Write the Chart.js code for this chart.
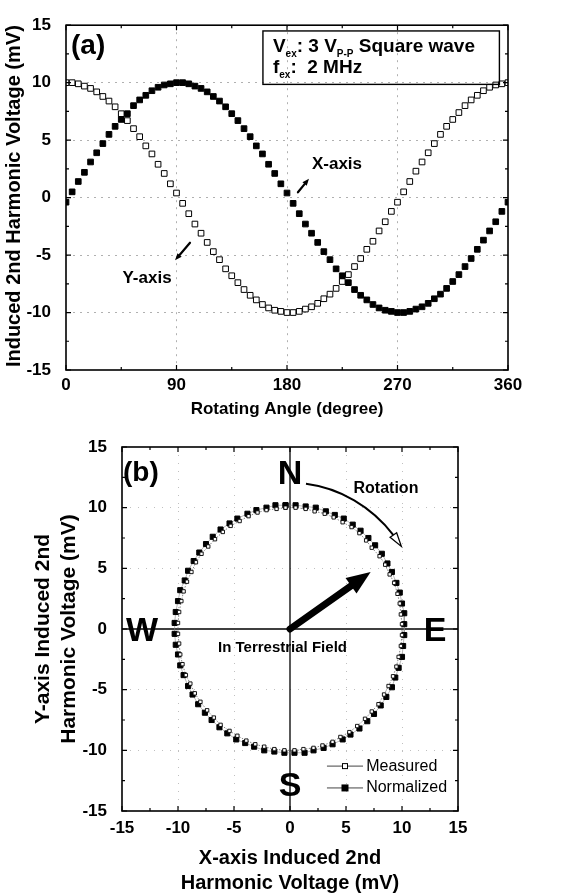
<!DOCTYPE html>
<html><head><meta charset="utf-8">
<script src="https://cdn.jsdelivr.net/npm/chart.js@4.4.0/dist/chart.umd.min.js"></script>
<style>
html,body{margin:0;padding:0;background:#fff;width:571px;height:896px;overflow:hidden;}
#ca{position:absolute;left:0;top:0;}
#cb{position:absolute;left:0;top:420px;}
</style></head><body>
<canvas id="ca" width="571" height="420"></canvas>
<canvas id="cb" width="571" height="476"></canvas>
<script>
// ---------- DATA ----------
const angles = [0,5,10,15,20,25,30,35,40,45,50,55,60,65,70,75,80,85,90,95,100,105,110,115,120,125,130,135,140,145,150,155,160,165,170,175,180,185,190,195,200,205,210,215,220,225,230,235,240,245,250,255,260,265,270,275,280,285,290,295,300,305,310,315,320,325,330,335,340,345,350,355,360];
// Panel (a): X-axis (filled squares)
const xAxisVolt = [-0.4,0.5,1.4,2.2,3.1,3.9,4.7,5.5,6.2,6.8,7.3,8.0,8.5,8.9,9.3,9.6,9.8,9.9,10.0,10.0,9.9,9.7,9.5,9.2,8.8,8.4,7.9,7.3,6.7,6.0,5.3,4.5,3.8,2.9,2.1,1.2,0.4,
  -0.5,-1.4,-2.3,-3.1,-3.9,-4.7,-5.4,-6.2,-6.8,-7.4,-8.0,-8.5,-8.9,-9.3,-9.6,-9.8,-9.9,-10.0,-10.0,-9.9,-9.7,-9.5,-9.2,-8.8,-8.4,-7.9,-7.3,-6.7,-6.0,-5.3,-4.5,-3.7,-2.9,-2.1,-1.2,-0.4];
// Panel (a): Y-axis (open squares)
const yAxisVolt = [10.0,10.0,9.9,9.7,9.5,9.2,8.8,8.4,7.9,7.3,6.7,6.0,5.3,4.5,3.8,2.9,2.1,1.2,0.4,-0.5,-1.4,-2.3,-3.1,-3.9,-4.7,-5.4,-6.2,-6.8,-7.4,-8.0,-8.5,-8.9,-9.3,-9.6,-9.8,-9.9,-10.0,
  -10.0,-9.9,-9.7,-9.5,-9.2,-8.8,-8.4,-7.9,-7.3,-6.7,-6.0,-5.3,-4.5,-3.8,-2.9,-2.1,-1.2,-0.4,0.5,1.4,2.3,3.1,3.9,4.7,5.5,6.2,6.8,7.4,8.0,8.5,8.9,9.3,9.6,9.8,9.9,10.0];
// Panel (b): Normalized
const normX = [-0.4,0.5,1.4,2.3,3.2,4.0,4.8,5.6,6.3,7.0,7.6,8.2,8.7,9.1,9.5,9.8,10.0,10.2,10.2,10.2,10.1,10.0,9.7,9.4,9.1,8.6,8.1,7.5,6.9,6.2,5.4,4.7,3.8,3.0,2.1,1.3,0.4,
  -0.5,-1.4,-2.3,-3.2,-4.0,-4.8,-5.6,-6.3,-7.0,-7.6,-8.2,-8.7,-9.1,-9.5,-9.8,-10.0,-10.2,-10.3,-10.3,-10.2,-10.0,-9.8,-9.4,-9.1,-8.6,-8.1,-7.5,-6.9,-6.2,-5.4,-4.7,-3.8,-3.0,-2.1,-1.3,-0.4];
const normY = [10.2,10.2,10.1,10.0,9.7,9.4,9.1,8.6,8.1,7.5,6.9,6.2,5.4,4.7,3.8,3.0,2.1,1.3,0.4,-0.5,-1.4,-2.3,-3.2,-4.0,-4.8,-5.6,-6.3,-7.0,-7.6,-8.2,-8.7,-9.1,-9.5,-9.8,-10.0,-10.2,-10.2,
  -10.2,-10.1,-10.0,-9.7,-9.4,-9.1,-8.6,-8.1,-7.5,-6.9,-6.2,-5.4,-4.7,-3.8,-3.0,-2.1,-1.3,-0.4,0.5,1.4,2.3,3.2,4.0,4.8,5.6,6.3,7.0,7.6,8.2,8.7,9.1,9.5,9.8,10.0,10.2,10.2];
// Tick labels
const angleTicks = [0,90,180,270,360];
const voltTicks = [-15,-10,-5,0,5,10,15];

// ---------- HELPERS ----------
const FF = '"Liberation Sans", Arial, Helvetica, sans-serif';
const bold = (s, lh) => ({family: FF, size: s, weight: 'bold', lineHeight: lh || 1.2});
function mids(arr){ const r=[]; for(let i=0;i<arr.length-1;i++) r.push((arr[i]+arr[i+1])/2); return r; }
function frameTicks(ctx, a, xs, ys, xMaj, yMaj){
  ctx.save();
  ctx.strokeStyle='#000';
  ctx.lineWidth=1.2;
  ctx.beginPath();
  const doX=(vals,len)=>vals.forEach(v=>{const p=xs.getPixelForValue(v);ctx.moveTo(p,a.bottom);ctx.lineTo(p,a.bottom-len);ctx.moveTo(p,a.top);ctx.lineTo(p,a.top+len);});
  const doY=(vals,len)=>vals.forEach(v=>{const p=ys.getPixelForValue(v);ctx.moveTo(a.left,p);ctx.lineTo(a.left+len,p);ctx.moveTo(a.right,p);ctx.lineTo(a.right-len,p);});
  doX(xMaj,5); doX(mids(xMaj),3); doY(yMaj,5); doY(mids(yMaj),3);
  ctx.stroke();
  ctx.lineWidth=1.6;
  ctx.strokeRect(a.left,a.top,a.right-a.left,a.bottom-a.top);
  ctx.restore();
}
function arrow(ctx,x1,y1,x2,y2,lw,hl,hw,hollow){
  const ang=Math.atan2(y2-y1,x2-x1);
  const bx=x2-hl*Math.cos(ang), by=y2-hl*Math.sin(ang);
  ctx.save();
  ctx.strokeStyle='#000';
  if(lw>0){ ctx.lineWidth=lw; ctx.lineCap='round';
    ctx.beginPath(); ctx.moveTo(x1,y1); ctx.lineTo(bx,by); ctx.stroke(); }
  ctx.beginPath();
  ctx.moveTo(x2,y2);
  ctx.lineTo(bx+hw/2*Math.sin(ang), by-hw/2*Math.cos(ang));
  ctx.lineTo(bx-hw/2*Math.sin(ang), by+hw/2*Math.cos(ang));
  ctx.closePath();
  if(hollow){ctx.fillStyle='#fff';ctx.fill();ctx.lineWidth=1.3;ctx.lineJoin='miter';ctx.stroke();}
  else {ctx.fillStyle='#000';ctx.fill();}
  ctx.restore();
}
function rich(ctx,x,y,parts){
  parts.forEach(([t,s,dy])=>{ctx.font=`bold ${s}px ${FF}`;ctx.fillText(t,x,y+dy);x+=ctx.measureText(t).width;});
}
function gridColor(c, light){ const v=c.tick.value; const s=c.scale; return (v===s.min||v===s.max)?'rgba(0,0,0,0)':light; }

// ---------- PANEL A ----------
const plugA = {
  id:'plugA',
  afterDatasetsDraw(chart){
    const {ctx, chartArea:a, scales:{x,y}} = chart;
    frameTicks(ctx,a,x,y,angleTicks,voltTicks);
    ctx.save();
    ctx.fillStyle='#000'; ctx.textBaseline='alphabetic';
    ctx.font=`bold 28px ${FF}`; ctx.textAlign='left';
    ctx.fillText('(a)', a.left+5, a.top+29);
    // info box
    const bx1=x.getPixelForValue(160.4), bx2=x.getPixelForValue(353), by1=y.getPixelForValue(14.5), by2=y.getPixelForValue(9.85);
    ctx.lineWidth=1.4; ctx.strokeStyle='#000';
    ctx.strokeRect(bx1,by1,bx2-bx1,by2-by1);
    const tx=bx1+10;
    rich(ctx,tx,y.getPixelForValue(12.7),[['V',19,0],['ex',10,5],[': 3 V',19,0],['P-P',10,5],[' Square wave',19,0]]);
    rich(ctx,tx,y.getPixelForValue(10.8),[['f',19,0],['ex',10,5],[':  2 MHz',19,0]]);
    // labels
    ctx.font=`bold 17px ${FF}`; ctx.textAlign='center'; ctx.textBaseline='middle';
    ctx.fillText('X-axis', x.getPixelForValue(220.7), y.getPixelForValue(2.92));
    ctx.fillText('Y-axis', x.getPixelForValue(66), y.getPixelForValue(-7.06));
    arrow(ctx, x.getPixelForValue(188.9), y.getPixelForValue(0.46), x.getPixelForValue(197.9), y.getPixelForValue(1.65), 2.2, 7, 5.5, false);
    arrow(ctx, x.getPixelForValue(101), y.getPixelForValue(-3.93), x.getPixelForValue(88.8), y.getPixelForValue(-5.45), 2.2, 7, 5.5, false);
    ctx.restore();
  }
};

new Chart(document.getElementById('ca'), {
  type:'scatter',
  data:{datasets:[
    {label:'X-axis', data:angles.map((a,i)=>({x:a,y:xAxisVolt[i]})), pointStyle:'rect', pointRadius:4, backgroundColor:'#000', borderColor:'#000', borderWidth:1},
    {label:'Y-axis', data:angles.map((a,i)=>({x:a,y:yAxisVolt[i]})), pointStyle:'rect', pointRadius:4, backgroundColor:'#fff', borderColor:'#000', borderWidth:1}
  ]},
  options:{
    responsive:false, animation:false, devicePixelRatio:1,
    layout:{padding:{top:15,right:63,left:0,bottom:0}},
    plugins:{legend:{display:false},tooltip:{enabled:false}},
    scales:{
      x:{type:'linear',min:0,max:360,
        afterBuildTicks:s=>{s.ticks=angleTicks.map(v=>({value:v}));},
        afterFit:s=>{s.height=50;},
        ticks:{font:bold(17),color:'#000',padding:5,maxRotation:0},
        grid:{drawTicks:false,color:c=>gridColor(c,'#b0b0b0'),lineWidth:1},
        border:{display:false,dash:[2,5]},
        title:{display:true,text:'Rotating Angle (degree)',font:bold(17),color:'#000',padding:{top:0,bottom:0}}
      },
      y:{type:'linear',min:-15,max:15,
        afterBuildTicks:s=>{s.ticks=voltTicks.map(v=>({value:v}));},
        afterFit:s=>{s.width=66;},
        ticks:{font:bold(17),color:'#000',padding:15},
        grid:{drawTicks:false,color:c=>gridColor(c,'#b0b0b0'),lineWidth:1},
        border:{display:false,dash:[2,5]},
        title:{display:true,align:'end',text:'Induced 2nd Harmonic Voltage (mV)',font:bold(20),color:'#000',padding:{top:2,bottom:0}}
      }
    }
  },
  plugins:[plugA]
});

// ---------- PANEL B ----------
const plugB = {
  id:'plugB',
  beforeDatasetsDraw(chart){
    const {ctx, chartArea:a, scales:{x,y}} = chart;
    ctx.save();
    ctx.strokeStyle='#000'; ctx.lineWidth=1.3;
    const x0=x.getPixelForValue(0), y0=y.getPixelForValue(0);
    ctx.beginPath(); ctx.moveTo(x0,a.top); ctx.lineTo(x0,a.bottom); ctx.moveTo(a.left,y0); ctx.lineTo(a.right,y0); ctx.stroke();
    ctx.restore();
  },
  afterDatasetsDraw(chart){
    const {ctx, chartArea:a, scales:{x,y}} = chart;
    frameTicks(ctx,a,x,y,voltTicks,voltTicks);
    const P=(vx,vy)=>[x.getPixelForValue(vx), y.getPixelForValue(vy)];
    ctx.save();
    ctx.fillStyle='#000';
    ctx.font=`bold 28px ${FF}`; ctx.textAlign='left'; ctx.textBaseline='alphabetic';
    ctx.fillText('(b)', a.left+1, a.top+34);
    // compass letters
    const LS=34;
    ctx.font=`bold ${LS}px ${FF}`; ctx.textAlign='center';
    const cap=LS*0.358;
    let p;
    p=P(0,12.94); ctx.fillText('N',p[0],p[1]+cap);
    p=P(-13.2,0); ctx.fillText('W',p[0],p[1]+cap);
    p=P(12.95,0); ctx.fillText('E',p[0],p[1]+cap);
    p=P(0,-12.75); ctx.fillText('S',p[0],p[1]+cap);
    // texts
    ctx.font=`bold 16px ${FF}`; ctx.textBaseline='middle';
    p=P(8.57,11.6); ctx.fillText('Rotation',p[0],p[1]);
    ctx.font=`bold 15px ${FF}`;
    p=P(-0.67,-1.57); ctx.fillText('In Terrestrial Field',p[0],p[1]);
    // rotation arc (radius 12 around origin)
    const c=P(0,0);
    const rx=x.getPixelForValue(12.05)-c[0], ry=c[1]-y.getPixelForValue(12.05);
    const d2r=Math.PI/180;
    const t1=-83.2*d2r, tb=-40*d2r, te=-34.4*d2r;
    ctx.lineWidth=2; ctx.strokeStyle='#000';
    ctx.beginPath(); ctx.ellipse(c[0],c[1],rx,ry,0,t1,tb); ctx.stroke();
    const bxp=c[0]+rx*Math.cos(tb), byp=c[1]+ry*Math.sin(tb);
    const exp=c[0]+rx*Math.cos(te), eyp=c[1]+ry*Math.sin(te);
    arrow(ctx, bxp, byp, exp, eyp, 0, Math.hypot(exp-bxp,eyp-byp), 8, true);
    // thick arrow
    const o=P(0,0), tip=P(7.2,4.7);
    arrow(ctx,o[0],o[1],tip[0],tip[1],7,24,19,false);
    // legend
    const lx1=x.getPixelForValue(3.3), lx2=x.getPixelForValue(6.52), lxm=(lx1+lx2)/2, tx=x.getPixelForValue(6.8);
    const ly1=y.getPixelForValue(-11.3), ly2=y.getPixelForValue(-13.1);
    ctx.lineWidth=1; ctx.strokeStyle='#444';
    ctx.beginPath(); ctx.moveTo(lx1,ly1); ctx.lineTo(lx2,ly1); ctx.moveTo(lx1,ly2); ctx.lineTo(lx2,ly2); ctx.stroke();
    ctx.fillStyle='#fff'; ctx.strokeStyle='#000'; ctx.lineWidth=1;
    ctx.fillRect(lxm-2.5,ly1-2.5,5,5); ctx.strokeRect(lxm-2.5,ly1-2.5,5,5);
    ctx.fillStyle='#000'; ctx.fillRect(lxm-3.5,ly2-3.5,7,7);
    ctx.font=`16px ${FF}`; ctx.textAlign='left'; ctx.textBaseline='middle';
    ctx.fillText('Measured',tx,ly1); ctx.fillText('Normalized',tx,ly2);
    ctx.restore();
  }
};

new Chart(document.getElementById('cb'), {
  type:'scatter',
  data:{datasets:[
    {label:'Measured', data:angles.map((a,i)=>({x:xAxisVolt[i],y:yAxisVolt[i]})), showLine:true, borderDash:[1.5,1.5], borderWidth:0.8, borderColor:'#666', pointStyle:'rect', pointRadius:2.4, pointBackgroundColor:'#fff', pointBorderColor:'#000', pointBorderWidth:0.9},
    {label:'Normalized', data:angles.map((a,i)=>({x:normX[i],y:normY[i]})), showLine:true, borderWidth:0.6, borderColor:'#888', pointStyle:'rect', pointRadius:3.6, pointBackgroundColor:'#000', pointBorderColor:'#000', pointBorderWidth:1}
  ]},
  options:{
    responsive:false, animation:false, devicePixelRatio:1,
    layout:{padding:{top:27,right:113,left:0,bottom:0}},
    plugins:{legend:{display:false},tooltip:{enabled:false}},
    scales:{
      x:{type:'linear',min:-15,max:15,
        afterBuildTicks:s=>{s.ticks=voltTicks.map(v=>({value:v}));},
        afterFit:s=>{s.height=85;},
        ticks:{font:bold(17),color:'#000',padding:7,maxRotation:0},
        grid:{drawTicks:false,color:c=>(c.tick.value===0?'rgba(0,0,0,0)':gridColor(c,'#c0c0c0')),lineWidth:1},
        border:{display:false,dash:[1,7]},
        title:{display:true,text:['X-axis Induced 2nd','Harmonic Voltage (mV)'],font:bold(20,1.25),color:'#000',padding:{top:0,bottom:0}}
      },
      y:{type:'linear',min:-15,max:15,
        afterBuildTicks:s=>{s.ticks=voltTicks.map(v=>({value:v}));},
        afterFit:s=>{s.width=122;},
        ticks:{font:bold(17),color:'#000',padding:15},
        grid:{drawTicks:false,color:c=>(c.tick.value===0?'rgba(0,0,0,0)':gridColor(c,'#c0c0c0')),lineWidth:1},
        border:{display:false,dash:[1,7]},
        title:{display:true,text:['Y-axis Induced 2nd','Harmonic Voltage (mV)'],font:bold(21,1.2),color:'#000',padding:{top:31,bottom:0}}
      }
    }
  },
  plugins:[plugB]
});
</script>
</body></html>
